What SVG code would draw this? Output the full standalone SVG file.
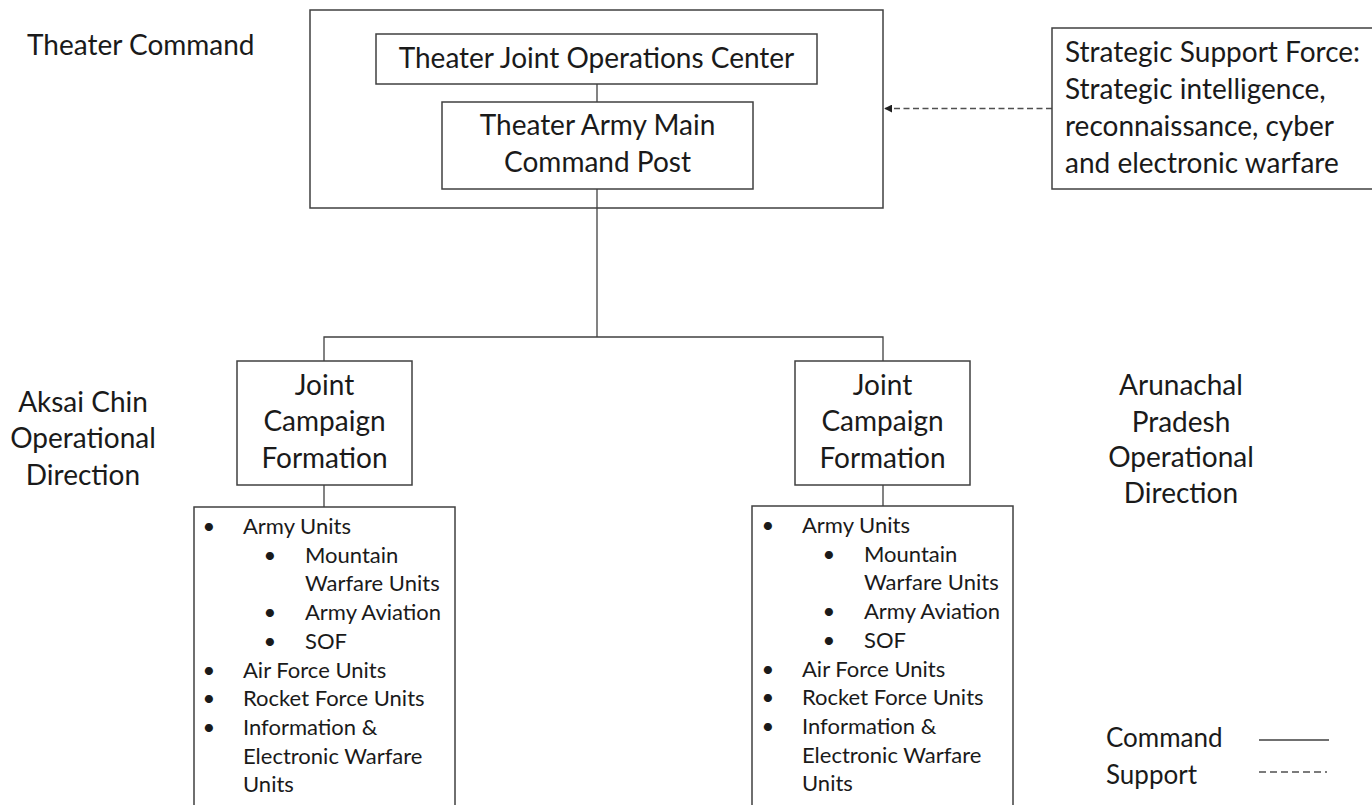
<svg xmlns="http://www.w3.org/2000/svg" width="1372" height="805" viewBox="0 0 1372 805">
<style>
  .t { font-family: Lato, "Liberation Sans", sans-serif; font-size: 28px; fill: #1a1a1a; }
  .m { text-anchor: middle; }
  .l { font-family: Lato, "Liberation Sans", sans-serif; font-size: 22px; fill: #1a1a1a; }
  .b { text-anchor: middle; }
  .box { fill: #ffffff; stroke: #404040; stroke-width: 1.5; }
  .cmd { fill: none; stroke: #404040; stroke-width: 1.3; }
  .sup { fill: none; stroke: #505050; stroke-width: 1.5; stroke-dasharray: 6 3.5; }
</style>
<defs>
  <marker id="ah" viewBox="0 0 10 10" refX="9" refY="5" markerWidth="8" markerHeight="8" markerUnits="userSpaceOnUse" orient="auto">
    <path d="M0,0 L10,5 L0,10 z" fill="#202020"/>
  </marker>
</defs>
<rect width="1372" height="805" fill="#ffffff"/>

<g id="theater-command">
  <rect class="box" x="310" y="10" width="573" height="198"/>
</g>
<g id="label-theater-command">
  <text class="t" x="27" y="55">Theater Command</text>
</g>

<g id="connectors">
  <line class="cmd" x1="597" y1="84" x2="597" y2="102"/>
  <line class="cmd" x1="597" y1="189" x2="597" y2="337"/>
  <polyline class="cmd" points="324,361 324,337 883,337 883,361"/>
  <line class="cmd" x1="324" y1="485" x2="324" y2="507"/>
  <line class="cmd" x1="883" y1="485" x2="883" y2="506"/>
  <line class="sup" x1="1052" y1="108.5" x2="885" y2="108.5" marker-end="url(#ah)"/>
</g>

<g id="joc">
  <rect class="box" x="376" y="34" width="441" height="50"/>
  <text class="t m" x="596.5" y="68">Theater Joint Operations Center</text>
</g>

<g id="army-main-cp">
  <rect class="box" x="442" y="102" width="311" height="87"/>
  <text class="t m" x="597.5" y="135">Theater Army Main</text>
  <text class="t m" x="597.5" y="172">Command Post</text>
</g>

<g id="ssf">
  <rect class="box" x="1052" y="28" width="330" height="161"/>
  <text class="t" x="1065" y="62">Strategic Support Force:</text>
  <text class="t" x="1065" y="99">Strategic intelligence,</text>
  <text class="t" x="1065" y="136">reconnaissance, cyber</text>
  <text class="t" x="1065" y="173">and electronic warfare</text>
</g>

<g id="jcf-left">
  <rect class="box" x="237" y="361" width="175" height="124"/>
  <text class="t m" x="324.5" y="395">Joint</text>
  <text class="t m" x="324.5" y="431">Campaign</text>
  <text class="t m" x="324.5" y="468">Formation</text>
</g>

<g id="jcf-right">
  <rect class="box" x="795" y="361" width="175" height="124"/>
  <text class="t m" x="882.5" y="395">Joint</text>
  <text class="t m" x="882.5" y="431">Campaign</text>
  <text class="t m" x="882.5" y="468">Formation</text>
</g>

<g id="label-aksai-chin">
  <text class="t m" x="83" y="412">Aksai Chin</text>
  <text class="t m" x="83" y="448">Operational</text>
  <text class="t m" x="83" y="485">Direction</text>
</g>

<g id="label-arunachal">
  <text class="t m" x="1181" y="395">Arunachal</text>
  <text class="t m" x="1181" y="432">Pradesh</text>
  <text class="t m" x="1181" y="467">Operational</text>
  <text class="t m" x="1181" y="503">Direction</text>
</g>

<g id="units-left">
  <rect class="box" x="194" y="507" width="261" height="320"/>
  <text class="l b" x="209" y="534">•</text>
  <text class="l" x="243" y="534">Army Units</text>
  <text class="l b" x="270" y="562.7">•</text>
  <text class="l" x="305" y="562.7">Mountain</text>
  <text class="l" x="305" y="591.4">Warfare Units</text>
  <text class="l b" x="270" y="620.1">•</text>
  <text class="l" x="305" y="620.1">Army Aviation</text>
  <text class="l b" x="270" y="648.8">•</text>
  <text class="l" x="305" y="648.8">SOF</text>
  <text class="l b" x="209" y="677.5">•</text>
  <text class="l" x="243" y="677.5">Air Force Units</text>
  <text class="l b" x="209" y="706.2">•</text>
  <text class="l" x="243" y="706.2">Rocket Force Units</text>
  <text class="l b" x="209" y="734.9">•</text>
  <text class="l" x="243" y="734.9">Information &amp;</text>
  <text class="l" x="243" y="763.6">Electronic Warfare</text>
  <text class="l" x="243" y="792.3">Units</text>
</g>

<g id="units-right">
  <rect class="box" x="752" y="506" width="261" height="320"/>
  <text class="l b" x="768" y="533">•</text>
  <text class="l" x="802" y="533">Army Units</text>
  <text class="l b" x="829" y="561.7">•</text>
  <text class="l" x="864" y="561.7">Mountain</text>
  <text class="l" x="864" y="590.4">Warfare Units</text>
  <text class="l b" x="829" y="619.1">•</text>
  <text class="l" x="864" y="619.1">Army Aviation</text>
  <text class="l b" x="829" y="647.8">•</text>
  <text class="l" x="864" y="647.8">SOF</text>
  <text class="l b" x="768" y="676.5">•</text>
  <text class="l" x="802" y="676.5">Air Force Units</text>
  <text class="l b" x="768" y="705.2">•</text>
  <text class="l" x="802" y="705.2">Rocket Force Units</text>
  <text class="l b" x="768" y="733.9">•</text>
  <text class="l" x="802" y="733.9">Information &amp;</text>
  <text class="l" x="802" y="762.6">Electronic Warfare</text>
  <text class="l" x="802" y="791.3">Units</text>
</g>

<g id="legend">
  <text class="t" x="1106" y="747" style="font-size:26px">Command</text>
  <text class="t" x="1106" y="784" style="font-size:26px">Support</text>
  <line class="cmd" x1="1259" y1="740" x2="1329" y2="740"/>
  <line class="sup" x1="1259" y1="772" x2="1327" y2="772" style="stroke-dasharray:7 4"/>
</g>
</svg>
